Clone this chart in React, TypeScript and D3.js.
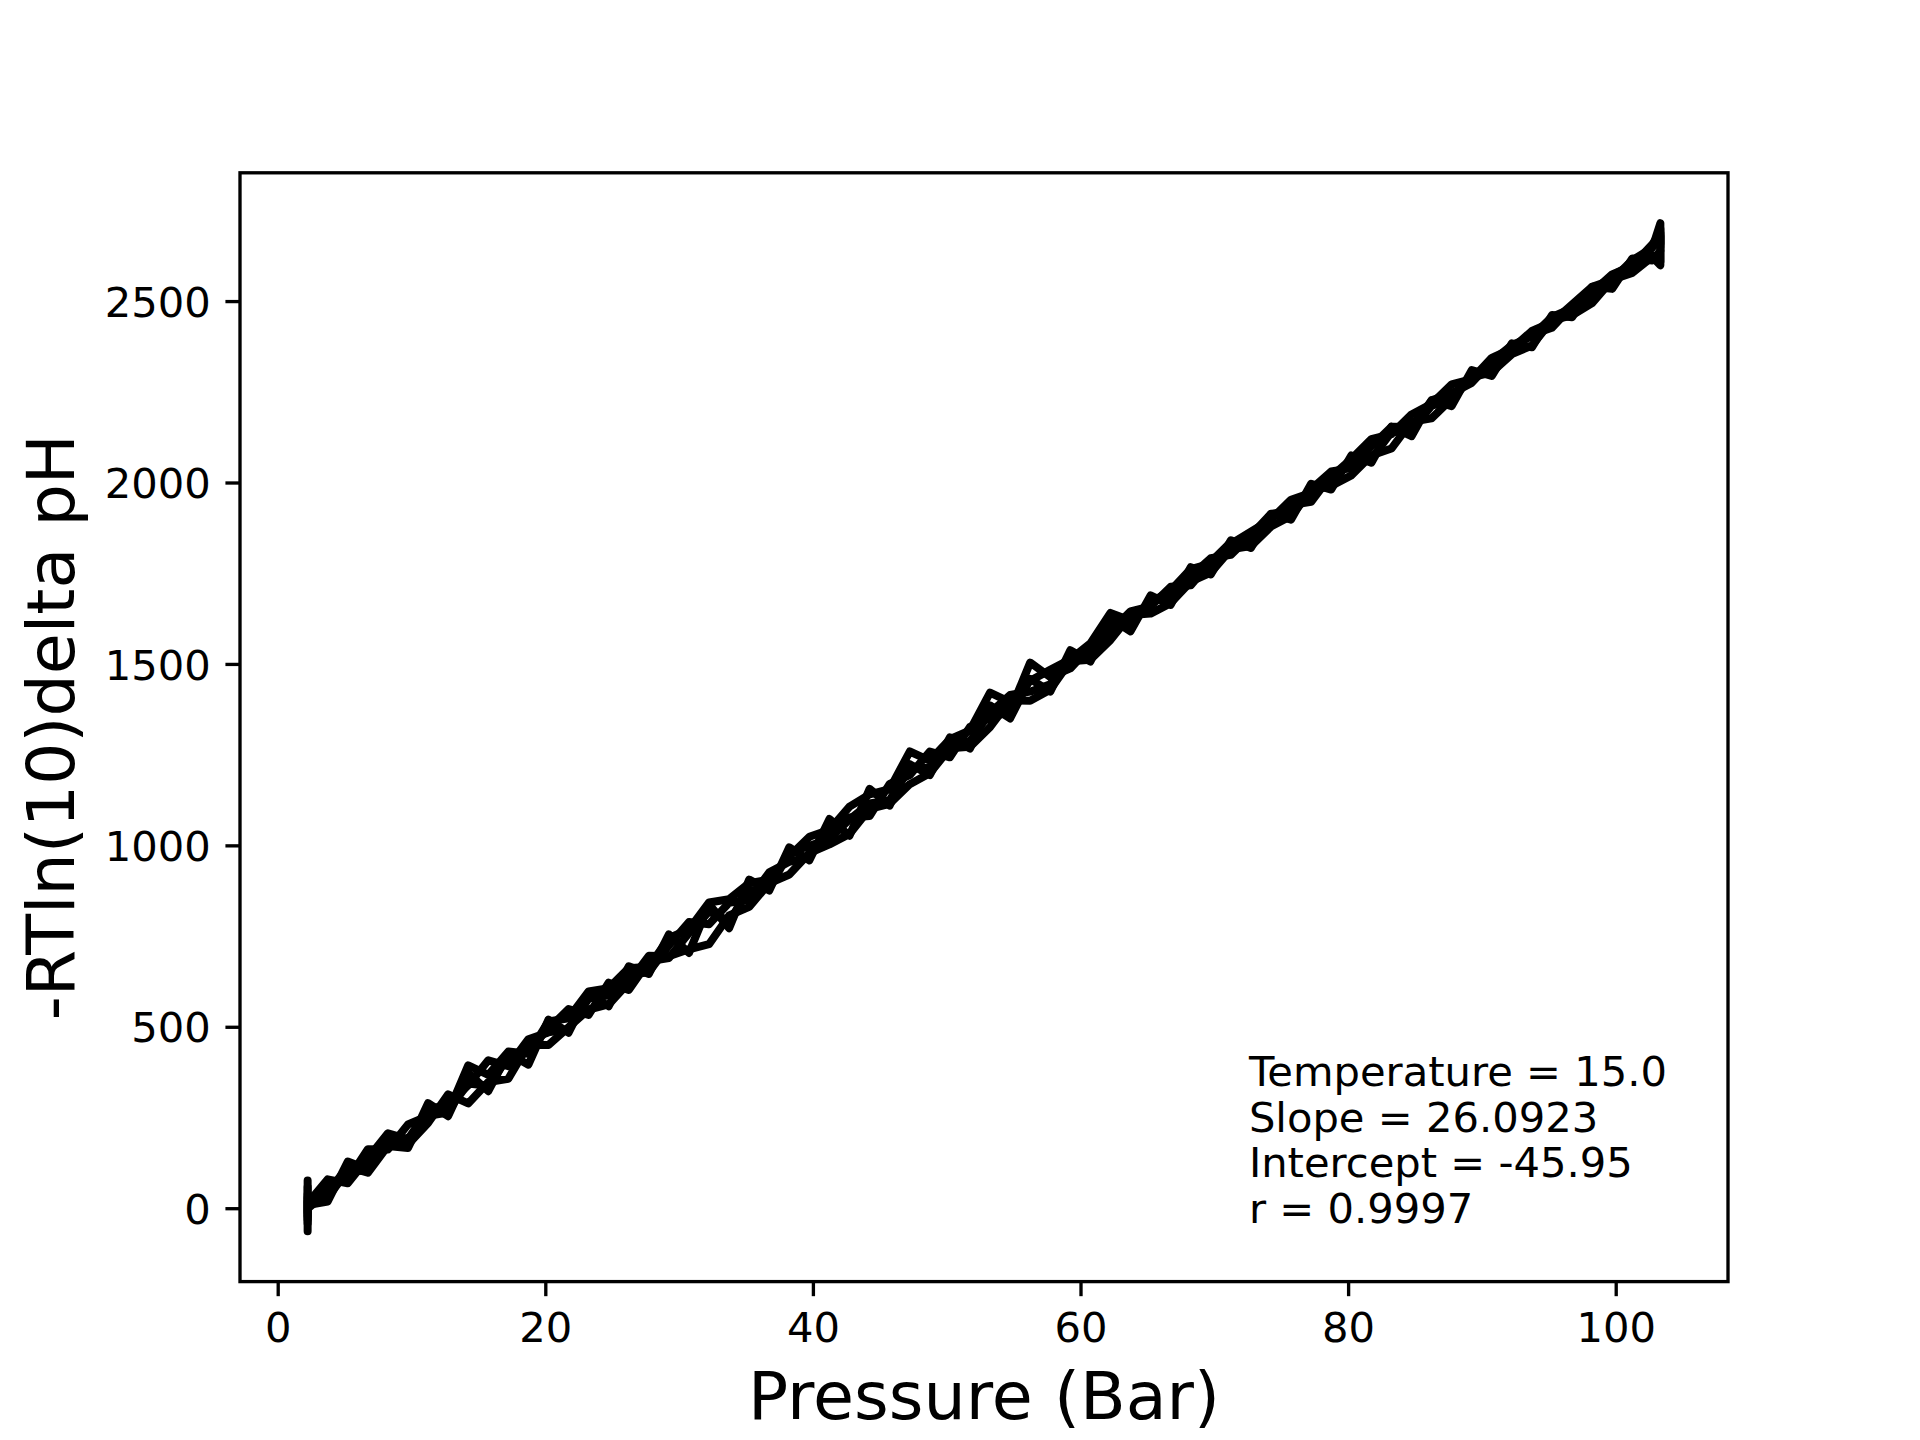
import { useMemo } from "react";
import * as d3 from "d3";

// Pressure readings (bar); the first and last readings repeat while the pH settles
const PRESSURE = [
  2.2, 2.2, 2.2, 3.7, 5.2, 6.7, 8.2, 9.7, 11.2, 12.7, 14.2, 15.7, 17.2, 18.7, 20.2, 21.7,
  23.2, 24.7, 26.2, 27.7, 29.2, 30.7, 32.2, 33.7, 35.2, 36.7, 38.2, 39.7, 41.2, 42.7, 44.2,
  45.7, 47.2, 48.7, 50.2, 51.7, 53.2, 54.7, 56.2, 57.7, 59.2, 60.7, 62.2, 63.7, 65.2, 66.7,
  68.2, 69.7, 71.2, 72.7, 74.2, 75.7, 77.2, 78.7, 80.2, 81.7, 83.2, 84.7, 86.2, 87.7, 89.2,
  90.7, 92.2, 93.7, 95.2, 96.7, 98.2, 99.7, 101.2, 102.7, 103.3, 103.3,
];

// -RT ln(10) delta pH for each replicate run
const RUN_A = [
  -62, 78, 12,
  66, 80, 164, 163, 232, 256, 265, 395, 369, 433,
  427, 516, 525, 599, 608, 663, 667, 746, 770, 844,
  853, 897, 907, 971, 1025, 1044, 1108, 1142, 1156, 1260,
  1235, 1294, 1318, 1422, 1396, 1455, 1485, 1514, 1558, 1642,
  1621, 1670, 1704, 1763, 1778, 1832, 1866, 1900, 1954, 1973,
  2017, 2066, 2121, 2135, 2189, 2218, 2272, 2286, 2345, 2370,
  2419, 2443, 2492, 2541, 2560, 2614, 2648,
  2716, 2650,
];
const RUN_B = [
  5, -30, 20,
  31, 105, 104, 188, 177, 236, 315, 290, 349, 358,
  452, 451, 500, 549, 563, 623, 697, 696, 715, 729,
  808, 832, 897, 921, 980, 1004, 1033, 1102, 1116, 1170,
  1200, 1269, 1273, 1327, 1401, 1400, 1430, 1509, 1513, 1567,
  1636, 1640, 1669, 1728, 1753, 1817, 1826, 1880, 1909, 1978,
  1992, 2021, 2076, 2095, 2169, 2178, 2232, 2291, 2305, 2355,
  2379, 2448, 2462, 2496, 2560, 2579, 2623,
  2600, 2640,
];
const RUN_C = [
  30, -10, 15,
  81, 70, 139, 208, 192, 271, 290, 340, 409, 393,
  467, 486, 495, 579, 588, 643, 652, 726, 790, 784,
  843, 852, 927, 956, 970, 1049, 1078, 1082, 1171, 1195,
  1260, 1244, 1328, 1352, 1371, 1505, 1465, 1489, 1548, 1602,
  1611, 1675, 1684, 1743, 1793, 1802, 1856, 1915, 1924, 1983,
  2032, 2041, 2101, 2155, 2154, 2228, 2247, 2276, 2335, 2380,
  2404, 2458, 2482, 2526, 2575, 2599, 2658,
  2690, 2660,
];
const RUN_D = [
  -20, 40, 0,
  46, 115, 99, 173, 167, 281, 270, 345, 339, 418,
  437, 496, 550, 534, 623, 603, 682, 691, 760, 819,
  793, 877, 882, 981, 1000, 1019, 1073, 1117, 1126, 1215,
  1215, 1279, 1288, 1367, 1416, 1425, 1445, 1529, 1528, 1592,
  1646, 1660, 1714, 1718, 1783, 1837, 1841, 1905, 1939, 1948,
  2022, 2056, 2066, 2140, 2144, 2213, 2227, 2296, 2315, 2375,
  2409, 2428, 2487, 2511, 2570, 2604, 2628,
  2610, 2680,
];
const RUN_E = [
  -40, 60, 10,
  20, 130, 109, 198, 172, 291, 255, 374, 324, 428,
  397, 521, 485, 594, 558, 668, 647, 756, 705, 839,
  773, 907, 877, 996, 960, 1074, 1028, 1157, 1111, 1225,
  1195, 1299, 1268, 1387, 1351, 1460, 1425, 1539, 1508, 1627,
  1591, 1690, 1664, 1768, 1748, 1842, 1821, 1915, 1899, 1998,
  1982, 2076, 2056, 2155, 2129, 2228, 2212, 2311, 2295, 2385,
  2374, 2463, 2457, 2541, 2535, 2619, 2613,
  2640, 2700,
];

const X_TICKS = [0, 20, 40, 60, 80, 100];
const Y_TICKS = [0, 500, 1000, 1500, 2000, 2500];

const STATS = [
  "Temperature = 15.0",
  "Slope = 26.0923",
  "Intercept = -45.95",
  "r = 0.9997",
];
// where the stats block sits, in data units (left edge, baseline of last line)
const STATS_AT = { pressure: 72.55, value: -40 };

const X_LABEL = "Pressure (Bar)";
const Y_LABEL = "-RTln(10)delta pH";

const W = 1920;
const H = 1440;
const PT = 300 / 72; // figure was rendered at 300 dpi
const PLOT = { left: 0.125 * W, right: 0.9 * W, top: 0.12 * H, bottom: 0.89 * H };
const FONT = "'DejaVu Sans', sans-serif";
const TICK_FS = 10 * PT;
const LABEL_FS = 16 * PT;
const TICK_LEN = 3.5 * PT;
const TICK_PAD = 3.5 * PT;

function padded([lo, hi]: [number, number]): [number, number] {
  const m = (hi - lo) * 0.05;
  return [lo - m, hi + m];
}

export default function App() {
  const runs = [RUN_A, RUN_B, RUN_C, RUN_D, RUN_E];

  const x = useMemo(
    () =>
      d3
        .scaleLinear()
        .domain(padded(d3.extent(PRESSURE) as [number, number]))
        .range([PLOT.left, PLOT.right]),
    []
  );

  const y = useMemo(() => {
    const all = runs.flat();
    return d3
      .scaleLinear()
      .domain(padded(d3.extent(all) as [number, number]))
      .range([PLOT.bottom, PLOT.top]);
  }, []);

  const lineGen = d3
    .line<number>()
    .x((_, i) => x(PRESSURE[i]))
    .y((d) => y(d));

  const statsX = x(STATS_AT.pressure);
  const statsBase = y(STATS_AT.value);
  const lineStep = TICK_FS * 1.1;

  // tick label widths drive label placement, like matplotlib does
  const yTickLabelW = 4 * 0.636 * TICK_FS;
  const xTickBottom = PLOT.bottom + TICK_LEN + TICK_PAD + 0.97 * TICK_FS;
  const xLabelBase = xTickBottom + 4 * PT + 0.76 * LABEL_FS;
  const yLabelBase = PLOT.left - TICK_LEN - TICK_PAD - yTickLabelW - 4 * PT - 0.208 * LABEL_FS;

  return (
    <svg
      width={W}
      height={H}
      style={{ position: "absolute", left: 0, top: 0, display: "block" }}
      fontFamily={FONT}
    >
      <rect x={0} y={0} width={W} height={H} fill="#ffffff" />

      {/* replicate runs */}
      {runs.map((run, i) => (
        <path
          key={i}
          d={lineGen(run) ?? ""}
          fill="none"
          stroke="#000000"
          strokeWidth={8}
          strokeLinejoin="round"
          strokeLinecap="round"
        />
      ))}

      {/* stats block */}
      <text fontSize={TICK_FS} fill="#000">
        {STATS.map((s, i) => (
          <tspan key={s} x={statsX} y={statsBase - (STATS.length - 1 - i) * lineStep}>
            {s}
          </tspan>
        ))}
      </text>

      {/* frame */}
      <rect
        x={PLOT.left}
        y={PLOT.top}
        width={PLOT.right - PLOT.left}
        height={PLOT.bottom - PLOT.top}
        fill="none"
        stroke="#000"
        strokeWidth={0.8 * PT}
        strokeLinecap="square"
      />

      {/* x ticks */}
      {X_TICKS.map((t) => (
        <g key={t} transform={`translate(${x(t)},0)`}>
          <line
            y1={PLOT.bottom}
            y2={PLOT.bottom + TICK_LEN}
            stroke="#000"
            strokeWidth={0.8 * PT}
          />
          <text
            y={PLOT.bottom + TICK_LEN + TICK_PAD + 0.76 * TICK_FS}
            textAnchor="middle"
            fontSize={TICK_FS}
            fill="#000"
          >
            {t}
          </text>
        </g>
      ))}

      {/* y ticks */}
      {Y_TICKS.map((t) => (
        <g key={t} transform={`translate(0,${y(t)})`}>
          <line
            x1={PLOT.left}
            x2={PLOT.left - TICK_LEN}
            stroke="#000"
            strokeWidth={0.8 * PT}
          />
          <text
            x={PLOT.left - TICK_LEN - TICK_PAD}
            y={0.3645 * TICK_FS}
            textAnchor="end"
            fontSize={TICK_FS}
            fill="#000"
          >
            {t}
          </text>
        </g>
      ))}

      {/* axis labels */}
      <text
        x={(PLOT.left + PLOT.right) / 2}
        y={xLabelBase}
        textAnchor="middle"
        fontSize={LABEL_FS}
        fill="#000"
      >
        {X_LABEL}
      </text>
      <text
        transform={`translate(${yLabelBase},${(PLOT.top + PLOT.bottom) / 2}) rotate(-90)`}
        textAnchor="middle"
        fontSize={LABEL_FS}
        fill="#000"
      >
        {Y_LABEL}
      </text>
    </svg>
  );
}
